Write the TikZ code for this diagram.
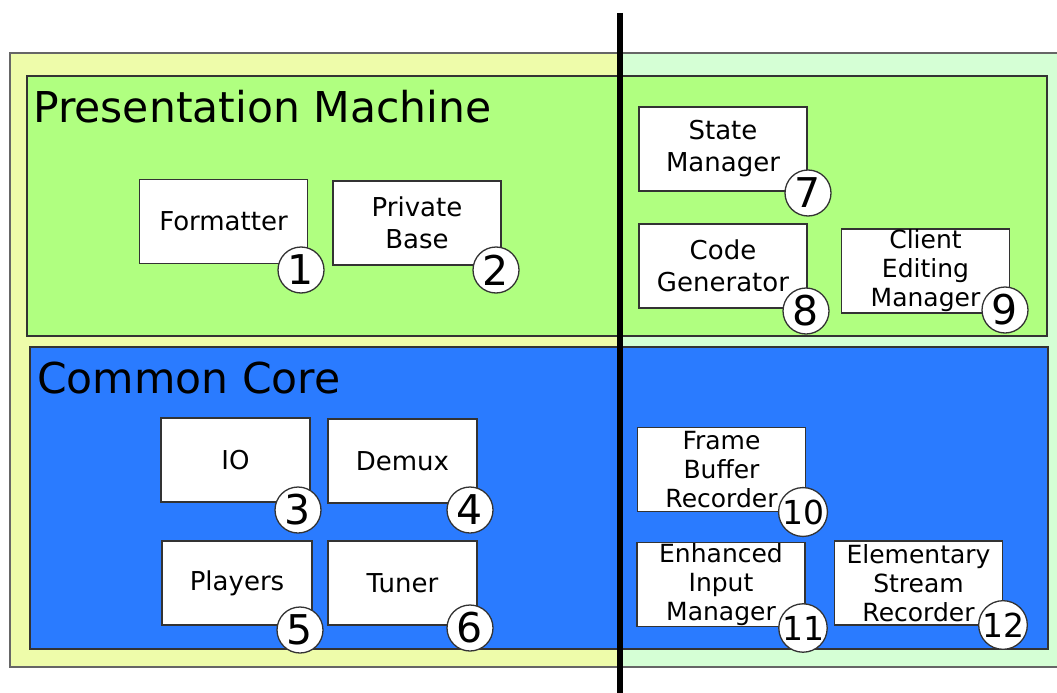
\documentclass[tikz,border=0pt]{standalone}
\usepackage{fontspec}
\setmainfont{DejaVu Sans}
\definecolor{paleyellow}{HTML}{EEFCAA}
\definecolor{palegreen}{HTML}{D5FFD5}
\definecolor{layergreen}{HTML}{B0FF80}
\definecolor{layerblue}{HTML}{2A7BFF}
\definecolor{edge}{HTML}{333333}
\begin{document}
\begin{tikzpicture}[x=1pt,y=-1pt,
  layer/.style={draw=edge,line width=1.5pt},
  comp/.style={draw=edge,line width=1.5pt,fill=white,inner sep=0pt,align=center,
    minimum width=168pt,minimum height=84pt,font=\fontsize{26}{32}\selectfont},
  comp3/.style={comp,font=\fontsize{25}{29}\selectfont},
  badge/.style={circle,draw=edge,line width=1.3pt,fill=white,inner sep=0pt,
    minimum size=46pt,font=\fontsize{41}{41}\selectfont},
  badge2/.style={badge,font=\fontsize{33}{33}\selectfont},
  title/.style={anchor=base west,inner sep=0pt,font=\fontsize{42.5}{50}\selectfont}]
\useasboundingbox (0,0) rectangle (1057,693);
% backgrounds of the two halves
\fill[paleyellow] (10,53) rectangle (620,667);
\fill[palegreen] (620,53) rectangle (1062,667);
\draw[draw=gray!80!black,line width=1.3pt] (1062,53) -- (10,53) -- (10,667) -- (1062,667);
% layers
\draw[layer,fill=layergreen] (27,76) rectangle (1047,336);
\draw[layer,fill=layerblue] (30,347) rectangle (1048,649);
\node[title] (pm) at (33,122) {Presentation Machine};
\node[title] (cc) at (37,393) {Common Core};
% components
\node[comp] (formatter) at (223.5,221.5) {Formatter};
\node[comp] (privbase) at (417,223) {Private\\Base};
\node[comp] (statemgr) at (723,149) {State\\Manager};
\node[comp] (codegen) at (723,266) {Code\\Generator};
\node[comp3] (clientedit) at (925.5,271) {Client\\Editing\\Manager};
\node[comp,minimum width=149pt] (io) at (235.5,460) {IO};
\node[comp,minimum width=149pt] (demux) at (402.5,461) {Demux};
\node[comp,minimum width=150pt] (players) at (237,583) {Players};
\node[comp,minimum width=149pt] (tuner) at (402.5,583) {Tuner};
\node[comp3] (fbrec) at (721.5,469.5) {Frame\\Buffer\\Recorder};
\node[comp3] (eimgr) at (721,584.5) {Enhanced\\Input\\Manager};
\node[comp3] (esrec) at (918.5,583) {Elementary\\Stream\\Recorder};
% numbered badges
\node[badge] (n1) at (301,270) {1};
\node[badge] (n2) at (496,270) {2};
\node[badge] (n7) at (808,193) {7};
\node[badge] (n8) at (806,311) {8};
\node[badge] (n9) at (1005,310) {9};
\node[badge] (n3) at (298,510) {3};
\node[badge] (n4) at (470,510) {4};
\node[badge] (n5) at (300,630) {5};
\node[badge] (n6) at (470,628) {6};
\node[badge2] (n10) at (803,512) {10};
\node[badge2] (n11) at (803,628) {11};
\node[badge2] (n12) at (1003,625) {12};
% dividing line
\coordinate (divtop) at (620,13);
\coordinate (divbot) at (620,693);
\draw[line width=6pt] (divtop) -- (divbot);
\end{tikzpicture}
\end{document}
